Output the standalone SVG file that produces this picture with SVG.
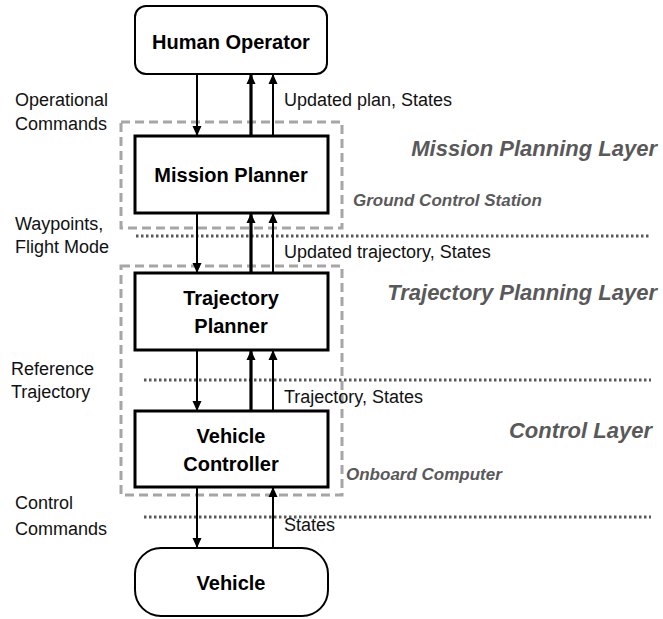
<svg xmlns="http://www.w3.org/2000/svg" width="663" height="619" viewBox="0 0 663 619">
<defs>
<marker id="ah" markerUnits="userSpaceOnUse" markerWidth="10" markerHeight="10" viewBox="0 0 10 10" refX="10" refY="5" orient="auto">
<path d="M0,0.5 L10,5 L0,9.5 z" fill="#000"/>
</marker>
<style>
.box{fill:#fff;stroke:#000;stroke-width:3}
.rbox{fill:#fff;stroke:#000;stroke-width:2}
.nt{font-family:"Liberation Sans",Arial,sans-serif;font-weight:bold;font-size:20px;fill:#000;text-anchor:middle}
.lbl{font-family:"Liberation Sans",Arial,sans-serif;font-size:18px;fill:#111}
.lay{font-family:"Liberation Sans",Arial,sans-serif;font-weight:bold;font-style:italic;font-size:22px;fill:#595959;text-anchor:end}
.sub{font-family:"Liberation Sans",Arial,sans-serif;font-weight:bold;font-style:italic;font-size:17px;fill:#595959}
.dash{fill:none;stroke:#a6a6a6;stroke-width:3;stroke-dasharray:9 5}
.dot{fill:none;stroke:#595959;stroke-width:3;stroke-dasharray:2.5 2.5}
.c{fill:none;stroke:#000;stroke-width:2;marker-end:url(#ah)}
.ct{fill:none;stroke:#000;stroke-width:3.2;marker-end:url(#ah)}
</style>
</defs>
<g id="layers">
<rect class="dash" x="121" y="122" width="221" height="106"/>
<rect class="dash" x="121" y="266" width="221" height="229"/>
<line class="dot" x1="136" y1="236" x2="651" y2="236"/>
<line class="dot" x1="144" y1="380" x2="651" y2="380"/>
<line class="dot" x1="144" y1="517" x2="651" y2="517"/>
<text class="lay" x="657" y="156">Mission Planning Layer</text>
<text class="lay" x="657" y="300">Trajectory Planning Layer</text>
<text class="lay" x="652" y="438">Control Layer</text>
<text class="sub" x="353" y="206">Ground Control Station</text>
<text class="sub" x="346" y="480">Onboard Computer</text>
</g>
<g id="connectors">
<line class="c" x1="197" y1="74" x2="197" y2="136"/>
<line class="ct" x1="251" y1="136" x2="251" y2="74"/>
<line class="c" x1="273" y1="136" x2="273" y2="74"/>
<line class="c" x1="197" y1="213" x2="197" y2="273"/>
<line class="ct" x1="251" y1="273" x2="251" y2="213"/>
<line class="c" x1="273" y1="273" x2="273" y2="213"/>
<line class="c" x1="197" y1="350" x2="197" y2="411"/>
<line class="ct" x1="251" y1="411" x2="251" y2="350"/>
<line class="c" x1="273" y1="411" x2="273" y2="350"/>
<line class="c" x1="197" y1="487" x2="197" y2="548"/>
<line class="c" x1="273" y1="548" x2="273" y2="487"/>
<text class="lbl" x="15" y="106">Operational</text>
<text class="lbl" x="15" y="130">Commands</text>
<text class="lbl" x="15" y="230">Waypoints,</text>
<text class="lbl" x="15" y="253">Flight Mode</text>
<text class="lbl" x="11" y="375">Reference</text>
<text class="lbl" x="11" y="398">Trajectory</text>
<text class="lbl" x="15" y="509">Control</text>
<text class="lbl" x="15" y="535">Commands</text>
<text class="lbl" x="284" y="106">Updated plan, States</text>
<text class="lbl" x="284" y="258">Updated trajectory, States</text>
<text class="lbl" x="284" y="403">Trajectory, States</text>
<text class="lbl" x="284" y="531">States</text>
</g>
<g id="human-operator">
<rect class="rbox" x="135" y="6" width="192" height="68" rx="11"/>
<text class="nt" x="231" y="49">Human Operator</text>
</g>
<g id="mission-planner">
<rect class="box" x="135" y="136" width="193" height="77"/>
<text class="nt" x="231" y="182">Mission Planner</text>
</g>
<g id="trajectory-planner">
<rect class="box" x="135" y="273" width="193" height="77"/>
<text class="nt" x="231" y="305">Trajectory</text>
<text class="nt" x="231" y="333">Planner</text>
</g>
<g id="vehicle-controller">
<rect class="box" x="135" y="411" width="193" height="76"/>
<text class="nt" x="231" y="443">Vehicle</text>
<text class="nt" x="231" y="471">Controller</text>
</g>
<g id="vehicle">
<rect class="rbox" x="135" y="548" width="193" height="68" rx="26"/>
<text class="nt" x="231" y="590">Vehicle</text>
</g>
</svg>
